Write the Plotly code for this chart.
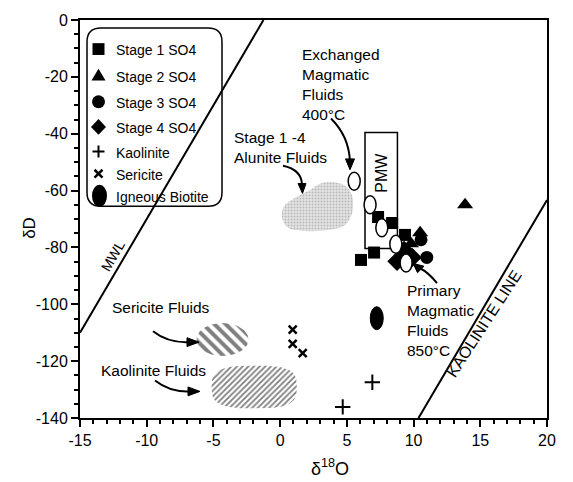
import numpy as np
import plotly.graph_objects as go

# ---------------- data (delta18O, deltaD) ----------------
stage1_x = [7.34, 8.39, 9.36, 6.06, 7.04]
stage1_y = [-69.3, -71.4, -75.6, -84.4, -81.8]
stage2_x = [10.49, 9.81, 13.86]
stage2_y = [-74.8, -78.7, -65.0]
stage3_x = [10.56, 10.99]
stage3_y = [-77.3, -83.5]
stage4_x = [8.76, 9.29, 9.89]
stage4_y = [-84.9, -81.1, -83.5]
kaol_x = [6.91, 4.69]
kaol_y = [-127.4, -136.1]
seric_x = [0.94, 0.94, 1.69]
seric_y = [-108.9, -113.9, -117.2]
biotite_x = [7.24]
biotite_y = [-104.9]
# modelled fluid compositions (open ellipses)
fluid_x = [5.55, 6.74, 7.62, 8.67, 9.44]
fluid_y = [-56.7, -65.0, -73.1, -78.9, -85.5]
# reference lines
mwl_x = [-15, -1.25]
mwl_y = [-110, 0]
kline_x = [10.37, 20]
kline_y = [-140, -63.3]
# primary magmatic water box
pmw_x = [6.36, 8.79]
pmw_y = [-80.4, -39.6]
# fluid fields
alun_x = [3.74, 4.87, 5.39, 5.39, 4.87, 3.74, 1.87, 0.59, 0.14, 0.29, 1.12, 2.24, 2.99]
alun_y = [-57.0, -58.3, -61.7, -67.9, -72.1, -73.8, -74.2, -73.1, -69.6, -65.5, -62.5, -59.8, -57.6]
seric_field = dict(cx=-4.32, cy=-112.4, ax=1.95, ay=5.8)
kaol_field = dict(cx=-1.94, cy=-129.1, ax=3.19, ay=7.5)

xticks = [-15, -10, -5, 0, 5, 10, 15, 20]
yticks = [0, -20, -40, -60, -80, -100, -120, -140]

# ---------------- layout geometry ----------------
W, H = 573, 482
L, R, T, B = 80, 547, 14, 418
FONT = "Liberation Sans, Arial, Helvetica, sans-serif"


def pp(px, py):
    return (px - L) / (R - L), (B - py) / (B - T)


def superellipse(cx, cy, ax, ay, n, npts=120):
    t = np.linspace(0, 2 * np.pi, npts)
    c, s = np.cos(t), np.sin(t)
    x = cx + ax * np.sign(c) * np.abs(c) ** (2 / n)
    y = cy + ay * np.sign(s) * np.abs(s) ** (2 / n)
    return x, y


fig = go.Figure()

# fluid fields
fig.add_trace(go.Scatter(x=alun_x + [alun_x[0]], y=alun_y + [alun_y[0]], mode="lines",
                         line=dict(width=0, shape="spline", smoothing=1.0), fill="toself",
                         fillcolor="#dcdcdc",
                         fillpattern=dict(shape=".", fgcolor="#8c8c8c", bgcolor="#e4e4e4",
                                          size=3, solidity=0.35)))
sx, sy = superellipse(**seric_field, n=2)
fig.add_trace(go.Scatter(x=sx, y=sy, mode="lines", line=dict(width=0), fill="toself",
                         fillpattern=dict(shape="\\", fgcolor="black", bgcolor="white",
                                          size=8, solidity=0.5)))
kx, ky = superellipse(**kaol_field, n=3.2)
fig.add_trace(go.Scatter(x=kx, y=ky, mode="lines", line=dict(width=0), fill="toself",
                         fillpattern=dict(shape="/", fgcolor="black", bgcolor="white",
                                          size=4, solidity=0.45)))

# reference lines
fig.add_trace(go.Scatter(x=mwl_x, y=mwl_y, mode="lines", line=dict(color="black", width=2)))
fig.add_trace(go.Scatter(x=kline_x, y=kline_y, mode="lines", line=dict(color="black", width=2)))

# data points
fig.add_trace(go.Scatter(x=kaol_x, y=kaol_y, mode="markers",
                         marker=dict(symbol="cross-thin", size=11, line=dict(width=2, color="black"))))
fig.add_trace(go.Scatter(x=seric_x, y=seric_y, mode="markers",
                         marker=dict(symbol="x-thin", size=8, line=dict(width=2.5, color="black"))))
fig.add_trace(go.Scatter(x=stage1_x, y=stage1_y, mode="markers",
                         marker=dict(symbol="square", size=12, color="black")))
fig.add_trace(go.Scatter(x=stage2_x, y=stage2_y, mode="markers",
                         marker=dict(symbol="triangle-up", size=14, color="black")))
fig.add_trace(go.Scatter(x=stage3_x, y=stage3_y, mode="markers",
                         marker=dict(symbol="circle", size=13, color="black")))
fig.add_trace(go.Scatter(x=stage4_x, y=stage4_y, mode="markers",
                         marker=dict(symbol="diamond", size=15, color="black")))

shapes = []
# PMW box
shapes.append(dict(type="rect", xref="x", yref="y", x0=pmw_x[0], x1=pmw_x[1], y0=pmw_y[0], y1=pmw_y[1],
                   line=dict(color="black", width=1.5), layer="below"))
# open ellipses (fluid compositions)
for fx, fy in zip(fluid_x, fluid_y):
    shapes.append(dict(type="circle", xref="x", yref="y", xsizemode="pixel", ysizemode="pixel",
                       xanchor=fx, yanchor=fy, x0=-6, x1=6, y0=-9, y1=9,
                       line=dict(color="black", width=1.5), fillcolor="white", layer="above"))
# igneous biotite
for bx, by in zip(biotite_x, biotite_y):
    shapes.append(dict(type="circle", xref="x", yref="y", xsizemode="pixel", ysizemode="pixel",
                       xanchor=bx, yanchor=by, x0=-6.5, x1=6.5, y0=-11.5, y1=11.5,
                       line=dict(color="black", width=1), fillcolor="black", layer="above"))


def path_px(cmds):
    out = []
    for c in cmds:
        if isinstance(c, str):
            out.append(c)
        else:
            x, y = pp(*c)
            out.append(f"{x:.5f},{y:.5f}")
    return " ".join(out)


def curve_arrow(p0, c, p1, head, tip):
    shapes.append(dict(type="path", xref="paper", yref="paper",
                       path=path_px(["M", p0, "Q", c, p1]),
                       line=dict(color="black", width=2)))
    shapes.append(dict(type="path", xref="paper", yref="paper",
                       path=path_px(["M", head[0], "L", head[1], "L", tip, "Z"]),
                       line=dict(color="black", width=1), fillcolor="black"))


# arrows
curve_arrow((331, 114), (349, 132), (350, 158), [(345.5, 155), (354.5, 155)], (350, 166))
curve_arrow((283, 162), (302, 166), (302, 182), [(298, 180), (306, 180)], (302.5, 190))
curve_arrow((437, 281), (428, 270), (420, 266), [(417.5, 270.5), (424, 264)], (413, 261))
curve_arrow((153, 330), (168, 342), (189, 341), [(187, 336.5), (187, 345.5)], (199, 341))
curve_arrow((155, 380), (170, 392), (190, 391), [(188, 386.5), (188, 395.5)], (200, 391))

# legend box
lx0, lx1, ly0, ly1, rr = 87, 222, 22, 203, 14
shapes.append(dict(type="path", xref="paper", yref="paper", line=dict(color="black", width=1.5),
                   path=path_px(["M", (lx0 + rr, ly0), "L", (lx1 - rr, ly0), "Q", (lx1, ly0), (lx1, ly0 + rr),
                                 "L", (lx1, ly1 - rr), "Q", (lx1, ly1), (lx1 - rr, ly1),
                                 "L", (lx0 + rr, ly1), "Q", (lx0, ly1), (lx0, ly1 - rr),
                                 "L", (lx0, ly0 + rr), "Q", (lx0, ly0), (lx0 + rr, ly0), "Z"])))
sxm = 98.5
rows = [43.5, 70.5, 97, 122.5, 147.5, 170, 192.5]
# legend symbols
s = 6
shapes.append(dict(type="path", xref="paper", yref="paper", fillcolor="black", line=dict(width=0),
                   path=path_px(["M", (sxm - s, rows[0] - s), "L", (sxm + s, rows[0] - s), "L",
                                 (sxm + s, rows[0] + s), "L", (sxm - s, rows[0] + s), "Z"])))
shapes.append(dict(type="path", xref="paper", yref="paper", fillcolor="black", line=dict(width=0),
                   path=path_px(["M", (sxm, rows[1] - 7), "L", (sxm + 7, rows[1] + 5), "L",
                                 (sxm - 7, rows[1] + 5), "Z"])))
cx, cy = pp(sxm, rows[2])
shapes.append(dict(type="circle", xref="paper", yref="paper", xsizemode="pixel", ysizemode="pixel",
                   xanchor=cx, yanchor=cy, x0=-6.5, x1=6.5, y0=-6.5, y1=6.5,
                   fillcolor="black", line=dict(width=0)))
shapes.append(dict(type="path", xref="paper", yref="paper", fillcolor="black", line=dict(width=0),
                   path=path_px(["M", (sxm, rows[3] - 8), "L", (sxm + 7.5, rows[3]), "L",
                                 (sxm, rows[3] + 8), "L", (sxm - 7.5, rows[3]), "Z"])))
shapes.append(dict(type="path", xref="paper", yref="paper", line=dict(color="black", width=2),
                   path=path_px(["M", (sxm - 6, rows[4]), "L", (sxm + 6, rows[4]), "M",
                                 (sxm, rows[4] - 6), "L", (sxm, rows[4] + 6)])))
shapes.append(dict(type="path", xref="paper", yref="paper", line=dict(color="black", width=2.5),
                   path=path_px(["M", (sxm - 4, rows[5] - 4), "L", (sxm + 4, rows[5] + 4), "M",
                                 (sxm - 4, rows[5] + 4), "L", (sxm + 4, rows[5] - 4)])))
cx, cy = pp(sxm + 1, rows[6])
shapes.append(dict(type="circle", xref="paper", yref="paper", xsizemode="pixel", ysizemode="pixel",
                   xanchor=cx, yanchor=cy, x0=-7.5, x1=7.5, y0=-11, y1=11,
                   fillcolor="black", line=dict(width=0)))

annotations = []


def text(px, py, t, size=15.5, xanchor="left", angle=0, yanchor="middle"):
    x, y = pp(px, py)
    annotations.append(dict(x=x, y=y, xref="paper", yref="paper", text=t, showarrow=False,
                            xanchor=xanchor, yanchor=yanchor, align="left", textangle=angle,
                            font=dict(family=FONT, size=size, color="black")))


legend_labels = ["Stage 1 SO4", "Stage 2 SO4", "Stage 3 SO4", "Stage 4 SO4",
                 "Kaolinite", "Sericite", "Igneous Biotite"]
for r, lab in zip(rows, legend_labels):
    text(114, r + 1, lab, size=14)

text(300, 79, "Exchanged<br>Magmatic<br>Fluids<br>400°C")
text(232, 143, "Stage 1 -4<br>Alunite Fluids")
text(405, 319, "Primary<br>Magmatic<br>Fluids<br>850°C")
text(212, 306, "Sericite Fluids", xanchor="right")
text(208, 369.5, "Kaolinite Fluids", xanchor="right")
text(382, 169, "PMW", size=16, xanchor="center", angle=-90)
text(113, 254, "MWL", size=14, xanchor="center", angle=-60)
text(484, 322, "KAOLINITE LINE", size=16, xanchor="center", angle=-57)
# axis titles
text(30, 225, "δD", size=17, xanchor="center", angle=-90)
text(330, 468, "δ<sup>18</sup>O", size=18, xanchor="center")

axis_common = dict(showgrid=False, zeroline=False, showline=True, linecolor="black", linewidth=2,
                   mirror=True, ticks="outside", ticklen=7, tickwidth=2, tickcolor="black",
                   tickfont=dict(family=FONT, size=16, color="black"))

fig.update_layout(
    width=W, height=H, showlegend=False,
    margin=dict(l=L, r=W - R, t=T, b=H - B, pad=0),
    plot_bgcolor="white", paper_bgcolor="white",
    xaxis=dict(range=[-15, 20], tickvals=xticks, ticktext=[str(v) for v in xticks],
               minor=dict(dtick=1, tick0=0, ticks="outside", ticklen=4, tickwidth=1.5, tickcolor="black"),
               **axis_common),
    yaxis=dict(range=[-140, 0], tickvals=yticks, ticktext=[str(v) for v in yticks],
               minor=dict(dtick=5, tick0=0, ticks="outside", ticklen=4, tickwidth=1.5, tickcolor="black"),
               **axis_common),
    shapes=shapes, annotations=annotations,
)

fig.write_html("out.html")
